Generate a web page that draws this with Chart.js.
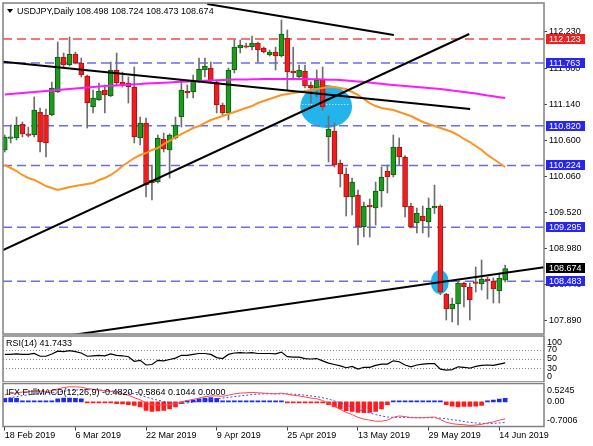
<!DOCTYPE html>
<html>
<head>
<meta charset="utf-8">
<script src="https://cdn.jsdelivr.net/npm/chart.js@4.4.1/dist/chart.umd.min.js"></script>
<style>
  html, body { margin: 0; padding: 0; background: #fff; }
  #wrap { position: relative; width: 593px; height: 446px; overflow: hidden; }
  canvas { position: absolute; left: 0; }
</style>
</head>
<body>
<div id="wrap">
  <canvas id="main" width="593" height="335" style="top:0"></canvas>
  <canvas id="rsi" width="593" height="47" style="top:335px"></canvas>
  <canvas id="macd" width="593" height="64" style="top:382px"></canvas>
</div>
<script>
// USDJPY daily, 18 Feb 2019 .. 17 Jun 2019 (86 bars)
const opens = [110.456,110.630,110.636,110.847,110.680,110.681,111.027,110.982,110.982,111.328,
  111.854,111.734,111.899,111.764,111.568,111.102,111.207,111.358,111.268,111.659,
  111.478,111.463,111.403,110.636,110.862,110.000,109.974,110.621,110.456,110.636,
  110.952,111.343,111.328,111.478,111.659,111.689,111.478,111.132,111.012,111.659,
  111.989,112.020,112.004,112.065,111.990,111.884,111.929,111.869,112.140,111.644,
  111.553,111.644,111.433,111.388,111.508,110.651,110.741,110.260,110.095,109.749,
  109.779,109.298,109.629,109.583,109.839,110.140,110.080,110.501,110.350,109.614,
  109.358,109.463,109.373,109.583,109.614,108.290,108.065,108.140,108.456,108.396,
  108.460,108.441,108.516,108.486,108.335,108.498];
const highs = [110.681,110.832,110.952,110.877,110.800,111.253,111.087,111.072,111.478,112.080,
  111.914,112.155,111.929,111.839,111.583,111.358,111.463,111.433,111.779,111.914,
  111.629,111.553,111.704,110.952,110.937,110.230,110.681,110.711,110.700,110.952,
  111.508,111.433,111.583,111.839,111.839,111.779,111.508,111.162,111.689,112.110,
  112.110,112.065,112.170,112.080,112.004,111.959,112.004,112.410,112.260,112.000,
  111.734,111.734,111.480,111.659,111.704,110.967,110.862,110.305,110.185,110.035,
  109.854,109.674,109.719,109.974,110.200,110.230,110.681,110.636,110.370,109.659,
  109.583,109.614,109.734,109.929,109.630,108.300,108.230,108.471,108.471,108.456,
  108.696,108.801,108.546,108.531,108.606,108.724];
const lows = [110.426,110.561,110.606,110.651,110.651,110.651,110.426,110.350,110.970,111.320,
  111.689,111.720,111.750,111.553,110.786,111.012,111.200,111.012,111.260,111.433,
  111.403,111.162,110.561,110.531,109.749,109.704,109.960,110.426,110.035,110.620,
  110.801,111.238,111.238,111.470,111.553,111.463,111.012,110.982,110.907,111.614,
  111.914,111.990,111.959,111.779,111.914,111.869,111.659,111.854,111.358,111.508,
  111.508,111.388,111.162,111.253,111.057,110.275,110.200,109.899,109.463,109.478,
  109.027,109.147,109.147,109.328,109.598,109.809,110.050,110.230,109.448,109.283,
  109.208,109.208,109.147,109.500,108.280,107.899,107.869,107.824,108.095,107.899,
  108.320,108.351,108.215,108.155,108.155,108.473];
const closes = [110.651,110.645,110.832,110.696,110.675,111.057,110.576,110.561,111.388,111.854,
  111.734,111.899,111.764,111.583,111.162,111.238,111.343,111.283,111.659,111.463,
  111.433,111.403,110.651,110.862,109.929,109.960,110.636,110.471,110.681,110.832,
  111.358,111.313,111.508,111.674,111.719,111.493,111.132,111.012,111.659,112.004,
  112.035,112.000,112.065,111.959,111.929,111.929,111.869,112.200,111.629,111.614,
  111.659,111.418,111.388,111.508,111.102,110.771,110.230,110.095,109.749,109.974,
  109.298,109.614,109.600,109.839,110.050,110.050,110.501,110.350,109.598,109.298,
  109.508,109.388,109.583,109.614,108.320,108.065,108.140,108.456,108.396,108.200,
  108.450,108.516,108.486,108.366,108.531,108.674];

// moving averages
const maSlow = [111.290,111.298,111.305,111.313,111.320,111.328,111.335,111.343,111.350,111.358,
  111.365,111.373,111.380,111.388,111.395,111.403,111.410,111.418,111.422,111.427,
  111.433,111.438,111.444,111.448,111.454,111.459,111.463,111.468,111.472,111.477,
  111.481,111.486,111.490,111.493,111.498,111.501,111.505,111.508,111.511,111.514,
  111.516,111.517,111.519,111.520,111.522,111.523,111.523,111.523,111.523,111.523,
  111.523,111.522,111.520,111.519,111.516,111.513,111.511,111.508,111.501,111.493,
  111.486,111.478,111.469,111.460,111.451,111.442,111.433,111.424,111.418,111.410,
  111.403,111.395,111.388,111.380,111.373,111.362,111.350,111.340,111.328,111.317,
  111.305,111.290,111.275,111.263,111.250,111.238];
const maFast = [110.230,110.185,110.140,110.080,110.035,110.005,109.960,109.914,109.884,109.854,
  109.877,109.899,109.914,109.929,109.944,109.960,110.005,110.035,110.080,110.140,
  110.215,110.275,110.335,110.380,110.410,110.456,110.486,110.546,110.591,110.651,
  110.696,110.741,110.786,110.816,110.862,110.907,110.937,110.967,110.997,111.027,
  111.057,111.087,111.117,111.162,111.192,111.222,111.253,111.283,111.298,111.313,
  111.328,111.343,111.358,111.373,111.388,111.403,111.403,111.388,111.373,111.328,
  111.283,111.222,111.162,111.117,111.087,111.072,111.057,111.027,110.997,110.967,
  110.922,110.877,110.847,110.816,110.786,110.756,110.726,110.681,110.621,110.576,
  110.516,110.456,110.380,110.320,110.260,110.200];

const rsiValues = [60,60,61,60,60,62,56,56,61,67, 66,68,66,63,56,57,58,57,61,58,
  57,55,45,47,37,38,47,46,49,52, 58,58,60,62,62,60,53,51,60,63,
  64,63,64,62,62,62,61,65,55,54, 54,51,50,51,46,41,38,35,31,34,
  28,32,32,36,39,39,46,44,37,33, 37,39,40,40,28,26,27,33,32,30,
  34,36,37,36,39,41.7433];

const macdHist = [0.10,0.11,0.10,0.03,0.03,0.03,0.02,0.02,0.03,0.09, 0.11,0.11,0.10,0.09,-0.02,-0.02,-0.03,-0.03,-0.03,-0.05,
  -0.06,-0.08,-0.10,-0.14,-0.24,-0.27,-0.26,-0.24,-0.20,-0.14, -0.05,0.03,0.05,0.09,0.11,0.12,0.10,0.03,0.03,0.03,
  0.03,0.02,0.02,0.02,0.02,0.02,0.02,0.03,-0.02,-0.02, -0.02,-0.02,-0.02,-0.02,-0.03,-0.08,-0.14,-0.20,-0.25,-0.27,
  -0.30,-0.31,-0.30,-0.27,-0.20,-0.08,0.03,0.03,0.02,0.02, 0.02,0.03,0.03,0.03,0.02,-0.08,-0.12,-0.14,-0.13,-0.13,
  -0.12,-0.10,0.03,0.05,0.08,0.1044];
const macdMain = [0.20,0.23,0.26,0.28,0.29,0.31,0.31,0.30,0.32,0.37, 0.41,0.43,0.43,0.42,0.38,0.36,0.34,0.31,0.30,0.27,
  0.23,0.19,0.12,0.06,-0.03,-0.08,-0.09,-0.09,-0.08,-0.05, 0.00,0.04,0.07,0.11,0.15,0.17,0.17,0.16,0.19,0.23,
  0.25,0.26,0.27,0.26,0.25,0.24,0.23,0.25,0.22,0.19, 0.17,0.14,0.11,0.09,0.04,-0.04,-0.13,-0.21,-0.30,-0.36,
  -0.44,-0.49,-0.52,-0.55,-0.55,-0.52,-0.44,-0.40,-0.42,-0.45, -0.45,-0.45,-0.44,-0.43,-0.50,-0.58,-0.62,-0.64,-0.65,-0.67,
  -0.66,-0.64,-0.60,-0.57,-0.52,-0.4820];
const macdSignal = [0.10,0.12,0.15,0.18,0.20,0.22,0.24,0.26,0.27,0.28, 0.30,0.32,0.34,0.35,0.35,0.35,0.34,0.33,0.32,0.30,
  0.28,0.26,0.23,0.19,0.14,0.09,0.05,0.01,-0.02,-0.04, -0.04,-0.03,-0.01,0.02,0.04,0.07,0.09,0.11,0.13,0.15,
  0.17,0.19,0.21,0.22,0.23,0.23,0.23,0.23,0.23,0.22, 0.21,0.19,0.17,0.15,0.12,0.08,0.03,-0.03,-0.09,-0.15,
  -0.21,-0.27,-0.32,-0.36,-0.40,-0.43,-0.44,-0.44,-0.44,-0.44, -0.45,-0.45,-0.45,-0.45,-0.46,-0.48,-0.51,-0.53,-0.56,-0.58,
  -0.60,-0.61,-0.62,-0.61,-0.60,-0.5864];

// levels and drawings
const redLevels = [112.123];
const blueLevels = [111.763, 110.820, 110.224, 109.295, 108.483];
const lastPrice = 108.674;
const trendLines = [
  [[34.4, 112.651], [66.1, 112.185]],
  [[-0.29, 111.783], [79.05, 111.072]],
  [[-0.29, 108.952], [78.9, 112.200]],
  [[11.43, 107.674], [91.6, 108.692]]
];
const ellipses = [
  { bar: 54.6, price: 111.110, rBars: 4.4, rPrice: 0.323, axisPrice: 111.14 },
  { bar: 73.9, price: 108.471, rBars: 1.53, rPrice: 0.18 }
];

const priceTicks = [107.89, 108.44, 108.98, 109.52, 110.06, 110.60, 111.14, 111.68, 112.23];
const rsiTicks = [100, 70, 50, 30, 0];
const rsiLevels = [70, 50, 30];
const macdTicks = [0.5245, 0, -0.7006];
const macdTickText = ['0.5245', '0.00', '-0.7006'];
const dateTickBars = [0, 12, 24, 36, 48, 60, 72, 84];
const dateTickLabels = ['18 Feb 2019', '6 Mar 2019', '22 Mar 2019', '9 Apr 2019',
  '25 Apr 2019', '13 May 2019', '29 May 2019', '14 Jun 2019'];

const xMin = -0.3, xMax = 91.6;
const FONT = '9px "Liberation Sans", Arial, sans-serif';
const GREEN = '#1c9c1c', GREEN_EDGE = '#0d5c0d';
const RED = '#f31c1c', RED_EDGE = '#a81212';
const FRAME = '#808080';

Chart.defaults.font.family = '"Liberation Sans", Arial, sans-serif';
Chart.defaults.font.size = 9;
Chart.defaults.color = '#000';
Chart.defaults.animation = false;

const xy = arr => arr.map((v, i) => ({ x: i, y: v }));
const isUp = i => closes[i] >= opens[i];
const last = arr => arr[arr.length - 1];

const frame = {
  id: 'frame',
  afterDraw(chart) {
    const { ctx, chartArea: a } = chart;
    ctx.save();
    ctx.strokeStyle = FRAME;
    ctx.lineWidth = 1.5;
    ctx.strokeRect(a.left, a.top, a.right - a.left, a.bottom - a.top);
    ctx.restore();
  }
};

function xScale(show) {
  const s = {
    type: 'linear', min: xMin, max: xMax, display: show, offset: false,
    afterBuildTicks: sc => { sc.ticks = dateTickBars.map(v => ({ value: v })); },
    ticks: {
      autoSkip: false, maxRotation: 0, align: 'start', padding: 0,
      callback: v => dateTickLabels[dateTickBars.indexOf(v)] || ''
    },
    grid: { offset: false, drawOnChartArea: false, drawTicks: true, tickLength: 4, color: '#444' },
    border: { display: false }
  };
  if (show) s.afterFit = sc => { sc.height = 19.5; sc.paddingLeft = 0; sc.paddingRight = 0; };
  return s;
}

// ---------- main price panel ----------
const mainDecor = {
  id: 'mainDecor',
  beforeDatasetsDraw(chart) {
    const { ctx, chartArea: a, scales: { x, y } } = chart;
    ctx.save();
    ctx.beginPath();
    ctx.rect(a.left, a.top, a.right - a.left, a.bottom - a.top);
    ctx.clip();
    ellipses.forEach(e => {
      const cx = x.getPixelForValue(e.bar), cy = y.getPixelForValue(e.price);
      const rx = x.getPixelForValue(e.bar + e.rBars) - cx;
      const ry = cy - y.getPixelForValue(e.price + e.rPrice);
      ctx.fillStyle = '#22b4ea';
      ctx.beginPath();
      ctx.ellipse(cx, cy, rx, ry, 0, 0, Math.PI * 2);
      ctx.fill();
      if (e.axisPrice) {
        const ay = Math.round(y.getPixelForValue(e.axisPrice)) + 0.5;
        ctx.strokeStyle = '#e8f8ff';
        ctx.setLineDash([1, 2]);
        ctx.lineWidth = 1;
        ctx.beginPath();
        ctx.moveTo(cx - rx + 2, ay);
        ctx.lineTo(cx + rx - 2, ay);
        ctx.stroke();
        ctx.setLineDash([]);
      }
    });
    ctx.restore();
  },
  afterDraw(chart) {
    const { ctx, chartArea: a, scales: { y } } = chart;
    ctx.save();
    ctx.font = FONT;
    ctx.textBaseline = 'middle';
    const box = (price, fill) => {
      const py = Math.round(y.getPixelForValue(price));
      ctx.fillStyle = fill;
      ctx.fillRect(a.right + 2, py - 5, 39, 10);
      ctx.fillStyle = '#fff';
      ctx.fillText(price.toFixed(3), a.right + 5, py + 0.5);
    };
    redLevels.forEach(p => box(p, '#ee2020'));
    blueLevels.forEach(p => box(p, '#2626f0'));
    box(lastPrice, '#000');

    // header
    ctx.fillStyle = '#000';
    ctx.beginPath();
    ctx.moveTo(7, 9); ctx.lineTo(13, 9); ctx.lineTo(10, 13); ctx.closePath();
    ctx.fill();
    ctx.fillText('USDJPY,Daily', 17, 11.5);
    ctx.fillText([last(opens), last(highs), last(lows), last(closes)].map(v => v.toFixed(3)).join(' '), 76, 11.5);
    ctx.restore();
  }
};

const levelSet = (levels, color) => levels.map(l => ({
  type: 'line', data: [{ x: xMin, y: l }, { x: xMax, y: l }],
  borderColor: color, borderWidth: 1.5, borderDash: [9, 5],
  pointRadius: 0, order: 20
}));

new Chart(document.getElementById('main'), {
  type: 'bar',
  data: {
    datasets: [
      ...levelSet(redLevels, '#f24848'),
      ...levelSet(blueLevels, '#6a6af2'),
      {
        data: highs.map((h, i) => ({ x: i, y: [lows[i], h] })),
        backgroundColor: '#6e6e6e', barThickness: 1, grouped: false, order: 12
      },
      {
        data: opens.map((o, i) => ({ x: i, y: [o, closes[i]] })),
        backgroundColor: c => isUp(c.dataIndex) ? GREEN : RED,
        borderColor: c => isUp(c.dataIndex) ? GREEN_EDGE : RED_EDGE,
        borderWidth: 1, borderSkipped: false, barThickness: 5,
        minBarLength: 1.5, grouped: false, order: 11
      },
      { type: 'line', data: xy(maSlow), borderColor: '#ff18ff', borderWidth: 2, pointRadius: 0, order: 6 },
      { type: 'line', data: xy(maFast), borderColor: '#fb9420', borderWidth: 2, pointRadius: 0, order: 5 },
      ...trendLines.map(t => ({
        type: 'line', data: t.map(p => ({ x: p[0], y: p[1] })),
        borderColor: '#000', borderWidth: 2, pointRadius: 0, order: 2
      }))
    ]
  },
  options: {
    responsive: false,
    layout: { padding: { left: 3, top: 3, right: 0, bottom: 1 } },
    plugins: { legend: { display: false }, tooltip: { enabled: false } },
    scales: {
      x: xScale(false),
      y: {
        position: 'right', min: 107.689, max: 112.666,
        afterBuildTicks: s => { s.ticks = priceTicks.map(v => ({ value: v })); },
        afterFit: s => { s.width = 49; s.paddingTop = 0; s.paddingBottom = 0; },
        ticks: { padding: 2, callback: v => v.toFixed(3) },
        grid: { drawOnChartArea: false, drawTicks: true, tickLength: 3, color: '#444' },
        border: { display: false }
      }
    }
  },
  plugins: [mainDecor, frame]
});

// ---------- indicator panels ----------
function sideLabels(chart, values, texts) {
  const { ctx, chartArea: a, scales: { y } } = chart;
  ctx.save();
  ctx.font = FONT;
  ctx.fillStyle = '#000';
  ctx.textBaseline = 'middle';
  values.forEach((v, i) => {
    let py = y.getPixelForValue(v);
    py = Math.min(Math.max(py, a.top + 7), a.bottom - 5.5);
    ctx.fillText(texts[i], a.right + 3, py);
  });
  ctx.restore();
}

function title(chart, text, ty) {
  const { ctx } = chart;
  ctx.save();
  ctx.font = FONT; ctx.fillStyle = '#000'; ctx.textBaseline = 'middle';
  ctx.fillText(text, 6, ty);
  ctx.restore();
}

new Chart(document.getElementById('rsi'), {
  type: 'line',
  data: {
    datasets: [{ data: xy(rsiValues), borderColor: '#000', borderWidth: 1.2, pointRadius: 0 }]
  },
  options: {
    responsive: false,
    layout: { padding: { left: 3, top: 1, right: 49, bottom: 0 } },
    plugins: { legend: { display: false }, tooltip: { enabled: false } },
    scales: { x: xScale(false), y: { min: 0, max: 100, display: false } }
  },
  plugins: [frame, {
    id: 'rsiDecor',
    beforeDatasetsDraw(chart) {
      const { ctx, chartArea: a, scales: { y } } = chart;
      ctx.save();
      ctx.strokeStyle = '#8a8a8a';
      ctx.lineWidth = 1;
      ctx.setLineDash([1, 2]);
      rsiLevels.forEach(l => {
        const py = Math.round(y.getPixelForValue(l)) + 0.5;
        ctx.beginPath(); ctx.moveTo(a.left, py); ctx.lineTo(a.right, py); ctx.stroke();
      });
      ctx.restore();
    },
    afterDraw(chart) {
      sideLabels(chart, rsiTicks, rsiTicks.map(String));
      title(chart, 'RSI(14) ' + last(rsiValues).toFixed(4), 9);
    }
  }]
});

new Chart(document.getElementById('macd'), {
  type: 'bar',
  data: {
    datasets: [
      {
        data: xy(macdHist),
        backgroundColor: c => macdHist[c.dataIndex] >= 0 ? '#1c28f5' : '#ff1c1c',
        barThickness: 4, minBarLength: 1, grouped: false, order: 3
      },
      { type: 'line', data: xy(macdSignal), borderColor: '#4646ff', borderWidth: 1, borderDash: [2, 2], pointRadius: 0, order: 2 },
      { type: 'line', data: xy(macdMain), borderColor: '#ff4a4a', borderWidth: 1, pointRadius: 0, order: 1 }
    ]
  },
  options: {
    responsive: false,
    layout: { padding: { left: 3, top: 1.5, right: 49, bottom: 0 } },
    plugins: { legend: { display: false }, tooltip: { enabled: false } },
    scales: { x: xScale(true), y: { min: -0.7006, max: 0.5245, display: false } }
  },
  plugins: [frame, {
    id: 'macdDecor',
    afterDraw(chart) {
      sideLabels(chart, macdTicks, macdTickText);
      title(chart, 'IFX FullMACD(12,26,9) ' + [last(macdMain), last(macdSignal), last(macdHist), 0]
        .map(v => v.toFixed(4)).join(' '), 10.5);
    }
  }]
});
</script>
</body>
</html>
